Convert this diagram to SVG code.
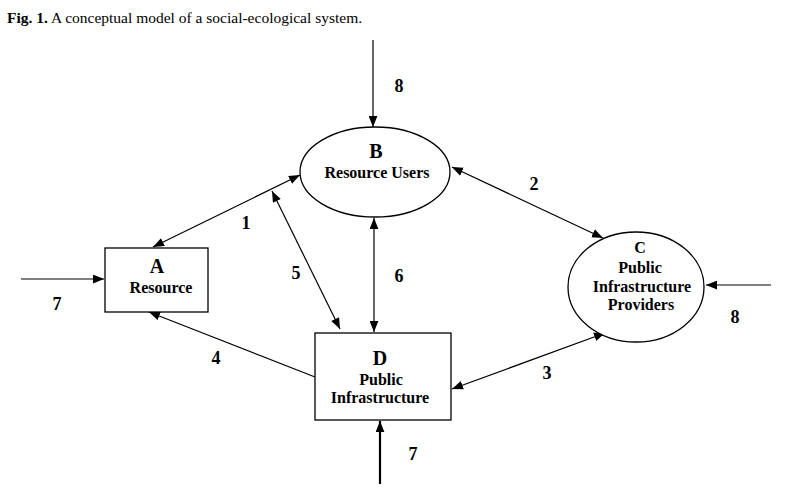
<svg xmlns="http://www.w3.org/2000/svg" width="786" height="496" viewBox="0 0 786 496">
<style>
text{font-family:"Liberation Serif","Times New Roman",serif;fill:#000}
.t{font-weight:bold;text-anchor:middle;font-size:16px}
.big{font-weight:bold;text-anchor:middle;font-size:20px}
.num{font-weight:bold;text-anchor:middle;font-size:18px}
.shape{fill:#fff;stroke:#000;stroke-width:1.3}
.ln{stroke:#000;stroke-width:1.2;fill:none}
</style>
<defs>
<marker id="ah" viewBox="0 0 10 8" refX="10" refY="4" markerWidth="11" markerHeight="9" markerUnits="userSpaceOnUse" orient="auto-start-reverse">
<path d="M0,0 L10,4 L0,8 z" fill="#000"/>
</marker>
</defs>
<rect width="786" height="496" fill="#fff"/>
<text x="7" y="23" font-size="15.5"><tspan font-weight="bold">Fig. 1.</tspan> A conceptual model of a social-ecological system.</text>
<g id="connectors">
<line class="ln" x1="373" y1="40" x2="373" y2="127" marker-end="url(#ah)"/>
<line class="ln" x1="21" y1="279" x2="104" y2="279" marker-end="url(#ah)"/>
<line class="ln" x1="153" y1="247" x2="300" y2="175" marker-start="url(#ah)" marker-end="url(#ah)"/>
<line class="ln" x1="272" y1="191" x2="340" y2="329" marker-start="url(#ah)" marker-end="url(#ah)"/>
<line class="ln" x1="374" y1="218" x2="374" y2="332" marker-start="url(#ah)" marker-end="url(#ah)"/>
<line class="ln" x1="452" y1="167" x2="603" y2="238" marker-start="url(#ah)" marker-end="url(#ah)"/>
<line class="ln" x1="452" y1="389" x2="605" y2="333" marker-start="url(#ah)" marker-end="url(#ah)"/>
<line class="ln" x1="315" y1="377" x2="149" y2="312" marker-end="url(#ah)"/>
<line class="ln" x1="771" y1="285" x2="706" y2="285" marker-end="url(#ah)"/>
<line class="ln" style="stroke-width:2.2" x1="380" y1="484" x2="380" y2="421" marker-end="url(#ah)"/>
<text class="num" x="399" y="92">8</text>
<text class="num" x="57" y="310">7</text>
<text class="num" x="246" y="229">1</text>
<text class="num" x="296" y="279">5</text>
<text class="num" x="399" y="282">6</text>
<text class="num" x="534" y="190">2</text>
<text class="num" x="547" y="379">3</text>
<text class="num" x="216" y="364">4</text>
<text class="num" x="735" y="323">8</text>
<text class="num" x="413" y="460">7</text>
</g>
<g id="nodeB">
<ellipse class="shape" cx="375" cy="172" rx="75" ry="45"/>
<text class="big" x="376" y="158">B</text>
<text class="t" x="377" y="178">Resource Users</text>
</g>
<g id="nodeA">
<rect class="shape" x="105" y="248" width="103" height="64"/>
<text class="big" x="157" y="273">A</text>
<text class="t" x="161" y="293">Resource</text>
</g>
<g id="nodeC">
<ellipse class="shape" cx="636" cy="287" rx="68" ry="55"/>
<text class="t" x="640" y="253">C</text>
<text class="t" x="640" y="273">Public</text>
<text class="t" x="642" y="292">Infrastructure</text>
<text class="t" x="641" y="310">Providers</text>
</g>
<g id="nodeD">
<rect class="shape" x="315" y="333" width="136" height="87"/>
<text class="big" x="380" y="365">D</text>
<text class="t" x="381" y="385">Public</text>
<text class="t" x="380" y="403">Infrastructure</text>
</g>
</svg>
